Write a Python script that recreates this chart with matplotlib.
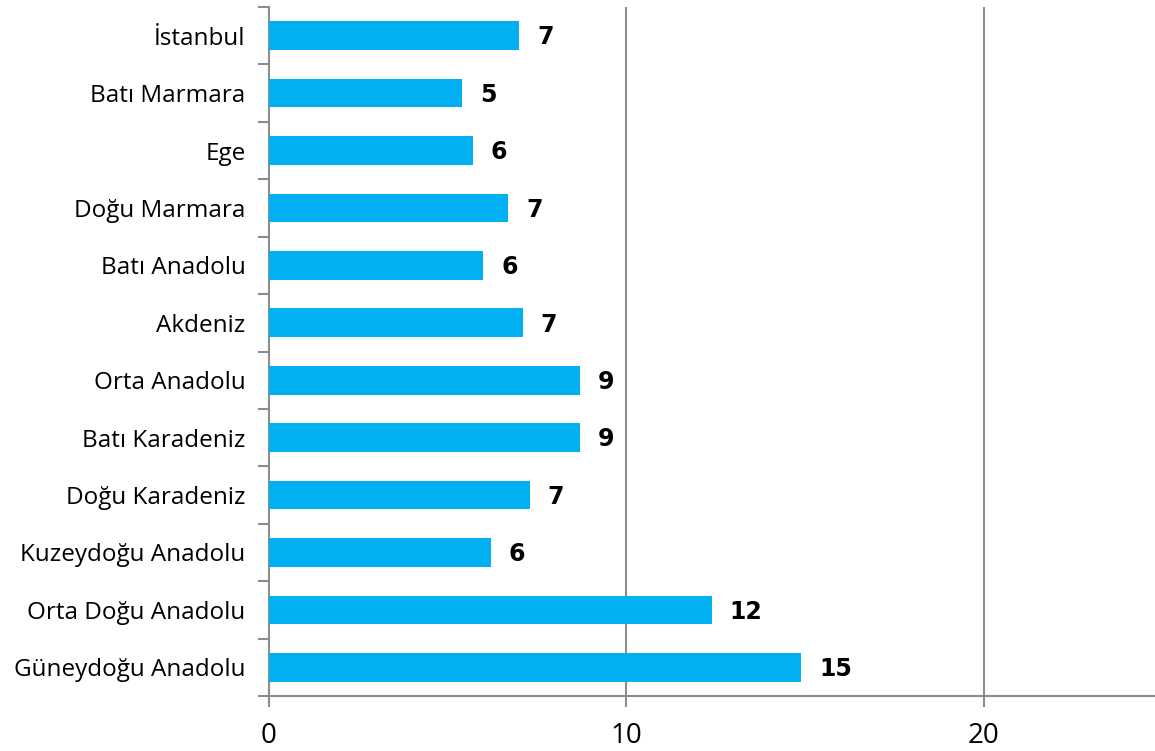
import numpy as np
import matplotlib.pyplot as plt

regions = ['İstanbul', 'Batı Marmara', 'Ege', 'Doğu Marmara', 'Batı Anadolu',
           'Akdeniz', 'Orta Anadolu', 'Batı Karadeniz', 'Doğu Karadeniz',
           'Kuzeydoğu Anadolu', 'Orta Doğu Anadolu', 'Güneydoğu Anadolu']
values = [7.0, 5.4, 5.7, 6.7, 6.0, 7.1, 8.7, 8.7, 7.3, 6.2, 12.4, 14.9]
x_ticks = [0, 10, 20]

plt.rcParams['font.family'] = ['Open Sans', 'DejaVu Sans']
grey = '#8c8c8c'

fig = plt.figure(figsize=(11.55, 7.51), dpi=100)
ax = fig.add_axes([269 / 1155, 1 - 696 / 751, 886 / 1155, 689 / 751])

y = np.arange(len(regions))
ax.barh(y, values, height=0.5, color='#00b0f0', zorder=3)
for yi, v in zip(y, values):
    ax.text(v + 0.5, yi + 0.03, f'{v:.0f}', va='center', ha='left',
            fontsize=17, fontweight='heavy', family='DejaVu Sans', color='black')

ax.set_ylim(len(regions) - 0.5, -0.5)
ax.set_xlim(0, 24.8)
ax.set_yticks(y)
ax.set_yticklabels(regions, fontsize=17.5)
ax.set_yticks(np.arange(len(regions) + 1) - 0.5, minor=True)
ax.tick_params(axis='y', which='major', length=0, pad=17)
ax.tick_params(axis='y', which='minor', length=8, color=grey, width=1.5)
ax.set_xticks(x_ticks)
ax.tick_params(axis='x', length=8, color=grey, width=1.5, labelsize=20, pad=11)

ax.grid(axis='x', color=grey, linewidth=1.5, zorder=0)
ax.xaxis.get_gridlines()[0].set_visible(False)
for s in ['top', 'right']:
    ax.spines[s].set_visible(False)
for s in ['left', 'bottom']:
    ax.spines[s].set_color(grey)
    ax.spines[s].set_linewidth(1.5)

fig.savefig('out.png', dpi=100)
